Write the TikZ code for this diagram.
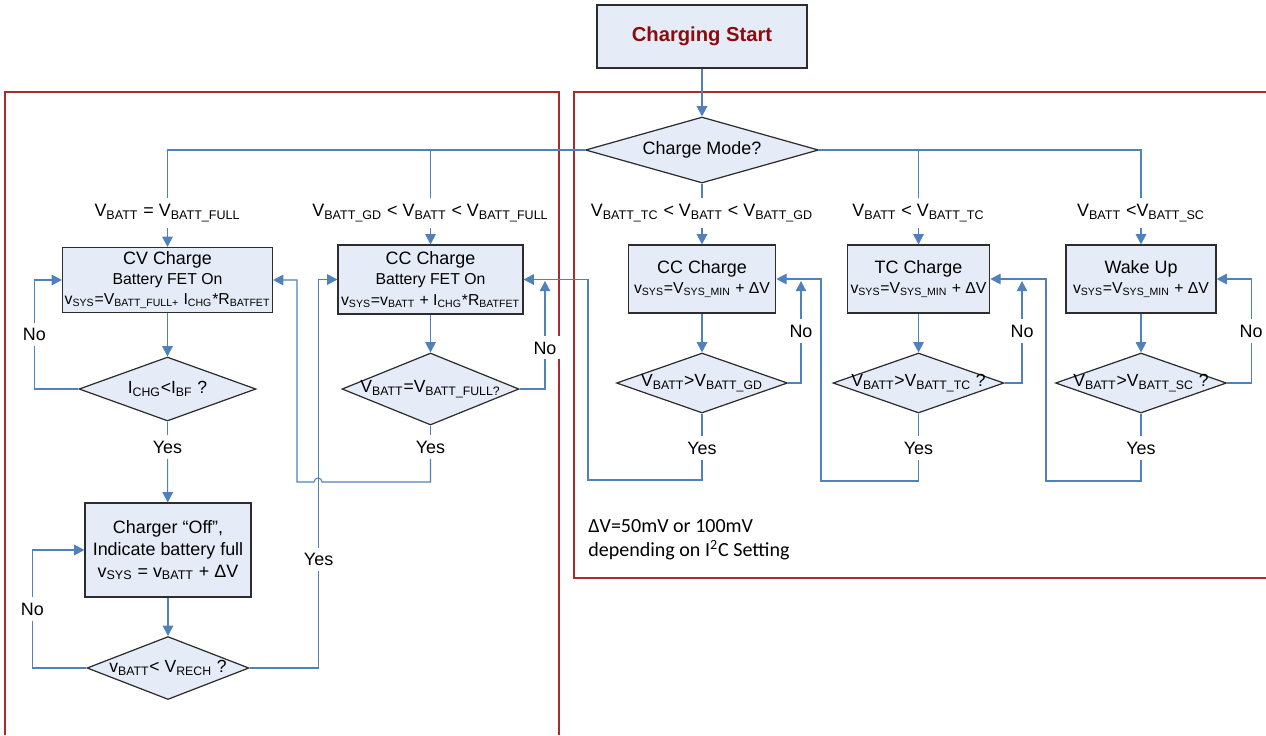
\documentclass[tikz,border=0pt]{standalone}
\usepackage{fontspec}
\setmainfont{Liberation Sans}
\newfontfamily\notefont{Carlito}
\usepackage{tikz}
\usetikzlibrary{positioning,shapes.geometric,arrows.meta}
\definecolor{linkblue}{RGB}{79,129,189}
\definecolor{boxfill}{RGB}{230,236,247}
\definecolor{boxline}{RGB}{45,45,45}
\definecolor{framered}{RGB}{165,45,45}
\definecolor{startred}{RGB}{140,12,12}
\newcommand{\lo}[1]{\textsubscript{#1}}
\newcommand{\hfont}{\fontsize{10.2}{12}\selectfont}

\begin{document}
\begin{tikzpicture}[x=0.02cm, y=-0.02cm,
    procbox/.style={draw=boxline, line width=0.7pt, fill=boxfill, align=center, inner sep=1pt,
      font=\fontsize{9}{11.5}\selectfont},
    decide/.style={diamond, draw=boxline, line width=0.7pt, fill=boxfill, inner sep=0pt,
      font=\fontsize{10}{12}\selectfont},
    cond/.style={font=\fontsize{10.2}{12}\selectfont, inner sep=3.5pt},
    ans/.style={fill=white, font=\fontsize{10.2}{12}\selectfont, inner sep=3pt},
    wire/.style={draw=linkblue, line width=0.6pt},
    flow/.style={wire, -{Triangle[length=5.8pt,width=6pt]}}]
\useasboundingbox (0,0) rectangle (1266,735);

% ---- frames
\draw[framered, line width=0.6pt] (5,735) -- (5,92) -- (559,92) -- (559,735);
\draw[framered, line width=0.6pt] (1266,92) -- (574,92) -- (574,578) -- (1266,578);

% ---- start and mode
\node[procbox, minimum width=4.2cm, minimum height=1.26cm, text=startred,
  font=\fontsize{11.5}{13}\selectfont\bfseries] (start) at (702,36.5) {Charging Start};
\node[decide, minimum width=4.66cm, minimum height=1.32cm, font=\hfont] (mode) at (702,150)
  {\makebox[0pt]{Charge Mode?}};
\draw[flow] (start) -- (mode);

% ---- branch conditions
\node[cond] (lfull) at (167.5,213) {V\lo{BATT} = V\lo{BATT\_FULL}};
\node[cond] (lgd) at (430.5,213) {V\lo{BATT\_GD} < V\lo{BATT} < V\lo{BATT\_FULL}};
\node[cond] (ltcgd) at (702,213) {V\lo{BATT\_TC} < V\lo{BATT} < V\lo{BATT\_GD}};
\node[cond] (ltc) at (918.5,213) {V\lo{BATT} < V\lo{BATT\_TC}};
\node[cond] (lsc) at (1141,213) {V\lo{BATT} <V\lo{BATT\_SC}};
\coordinate (jgd) at (430.5,150);
\coordinate (jtc) at (918.5,150);
\draw[wire] (mode.west) -| (lfull);
\draw[wire] (jgd) -- (lgd);
\draw[wire] (mode.south) -- (ltcgd);
\draw[wire] (mode.east) -| (lsc);
\draw[wire] (jtc) -- (ltc);

% ---- boxes
\node[procbox, minimum width=4.2cm, minimum height=1.3cm] (cv) at (167.5,280)
  {{\hfont CV Charge}\\Battery FET On\\v\lo{SYS}=V\lo{BATT\_FULL+} I\lo{CHG}*R\lo{BATFET}};
\node[procbox, minimum width=3.7cm, minimum height=1.38cm] (ccl) at (430.5,279.5)
  {{\hfont CC Charge}\\Battery FET On\\v\lo{SYS}=v\lo{BATT} + I\lo{CHG}*R\lo{BATFET}};
\node[procbox, minimum width=2.95cm, minimum height=1.36cm] (ccr) at (702,279)
  {{\hfont CC Charge}\\v\lo{SYS}=V\lo{SYS\_MIN} + ΔV};
\node[procbox, minimum width=2.85cm, minimum height=1.36cm] (tc) at (918.5,279)
  {{\hfont TC Charge}\\v\lo{SYS}=V\lo{SYS\_MIN} + ΔV};
\node[procbox, minimum width=3.0cm, minimum height=1.36cm] (wake) at (1141,279)
  {{\hfont Wake Up}\\v\lo{SYS}=V\lo{SYS\_MIN} + ΔV};
\node[procbox, minimum width=3.32cm, minimum height=1.88cm, font=\fontsize{10.2}{12.5}\selectfont]
  (off) at (168,550) {Charger “Off”,\\Indicate battery full\\v\lo{SYS} = v\lo{BATT} + ΔV};
\draw[flow] (lfull) -- (cv);
\draw[flow] (lgd) -- (ccl);
\draw[flow] (ltcgd) -- (ccr);
\draw[flow] (ltc) -- (tc);
\draw[flow] (lsc) -- (wake);

% ---- decisions
\node[decide, minimum width=3.54cm, minimum height=1.28cm] (ichg) at (167.5,389)
  {\makebox[0pt]{I\lo{CHG}<I\lo{BF} ?}};
\node[decide, minimum width=3.54cm, minimum height=1.44cm] (vfull) at (430.5,389)
  {\makebox[0pt]{V\lo{BATT}=V\lo{BATT\_FULL?}}};
\node[decide, minimum width=3.42cm, minimum height=1.2cm] (dgd) at (702,383)
  {\makebox[0pt]{V\lo{BATT}>V\lo{BATT\_GD}}};
\node[decide, minimum width=3.42cm, minimum height=1.2cm] (dtc) at (918.5,383)
  {\makebox[0pt]{V\lo{BATT}>V\lo{BATT\_TC} ?}};
\node[decide, minimum width=3.42cm, minimum height=1.2cm] (dsc) at (1141,383)
  {\makebox[0pt]{V\lo{BATT}>V\lo{BATT\_SC} ?}};
\node[decide, minimum width=3.24cm, minimum height=1.26cm] (rech) at (168,668)
  {\makebox[0pt]{v\lo{BATT}< V\lo{RECH} ?}};

% ---- CV branch
\draw[flow] (cv) -- (ichg);
\draw[flow] (ichg.west) -- ++(-44,0) |- node[ans,pos=0.25] (no1) {No} (cv.west);
\node[ans] (yes1) at (167.5,447) {Yes};
\draw[wire] (ichg) -- (yes1);
\draw[flow] (yes1) -- (off);
\draw[flow] (off) -- (rech);
\draw[flow] (rech.west) -- ++(-54,0) |- node[ans,pos=0.25] (no2) {No} (off.west);
\draw[flow] (rech.east) -- ++(69,0) |- node[ans,pos=0.14] (yes2) {Yes} (ccl.west);

% ---- CC branch, battery FET on
\draw[flow] (ccl) -- (vfull);
\coordinate (nofull) at (545,281);
\draw[flow] (vfull.east) -| node[ans,pos=0.69] (no3) {No} (nofull);
\node[ans] (yes3) at (430.5,447) {Yes};
\draw[wire] (vfull) -- (yes3);
\draw[flow] (yes3) |- (322,482) arc[start angle=0, end angle=180, radius=0.08cm]
  -- (297,482) |- (cv.east);

% ---- CC branch, system min
\draw[flow] (ccr) -- (dgd);
\coordinate (nogd) at (801,281);
\draw[flow] (dgd.east) -| node[ans,pos=0.755] (no4) {No} (nogd);
\node[ans] (yes4) at (702,448) {Yes};
\draw[wire] (dgd) -- (yes4);
\draw[flow] (yes4) |- (588,480) |- (ccl.east);

% ---- TC branch
\draw[flow] (tc) -- (dtc);
\coordinate (notc) at (1022,281);
\draw[flow] (dtc.east) -| node[ans,pos=0.755] (no5) {No} (notc);
\node[ans] (yes5) at (918.5,448) {Yes};
\draw[wire] (dtc) -- (yes5);
\draw[flow] (yes5) |- (821,481) |- (ccr.east);

% ---- wake up branch
\draw[flow] (wake) -- (dsc);
\draw[flow] (dsc.east) -- ++(24,0) |- node[ans,pos=0.25] (no6) {No} (wake.east);
\node[ans] (yes6) at (1141,448) {Yes};
\draw[wire] (dsc) -- (yes6);
\draw[flow] (yes6) |- (1046,481) |- (tc.east);

% ---- note
\node[anchor=west, align=left, inner sep=0pt, font=\notefont\fontsize{11.4}{13.6}\selectfont]
  (note) at (588,540) {ΔV=50mV or 100mV\\depending on I\textsuperscript{2}C Setting};
\end{tikzpicture}
\end{document}
